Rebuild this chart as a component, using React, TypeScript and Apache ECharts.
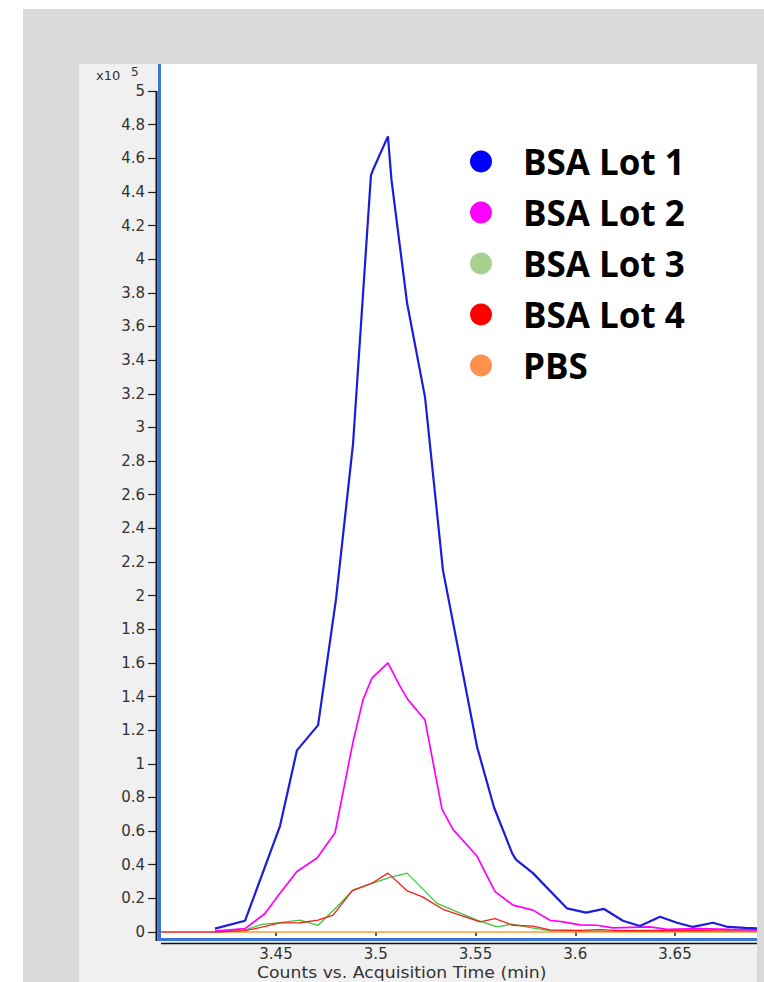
import React, { useEffect, useRef } from "react";
import * as echarts from "echarts";

// Acquisition time (min) and counts (x10^5)
const lot1Time = [3.4194, 3.4345, 3.452, 3.4605, 3.4711, 3.4801, 3.4886, 3.4976, 3.4986, 3.5061, 3.5079, 3.5157, 3.5247, 3.5337, 3.5508, 3.5593, 3.5683, 3.5703, 3.5788, 3.5959, 3.6054, 3.6144, 3.6239, 3.6324, 3.6425, 3.651, 3.659, 3.669, 3.6766, 3.6851, 3.6911];
const lot1Counts = [0.02, 0.067, 0.63, 1.08, 1.23, 1.98, 2.9, 4.5, 4.53, 4.73, 4.47, 3.74, 3.18, 2.15, 1.1, 0.74, 0.47, 0.43, 0.35, 0.14, 0.115, 0.137, 0.067, 0.036, 0.091, 0.055, 0.03, 0.055, 0.03, 0.025, 0.022];

const lot2Time = [3.4194, 3.4345, 3.4445, 3.452, 3.4605, 3.4706, 3.4796, 3.4886, 3.4936, 3.4981, 3.5061, 3.5122, 3.5162, 3.5247, 3.5332, 3.5387, 3.5508, 3.5598, 3.5688, 3.5788, 3.5873, 3.5939, 3.6024, 3.6109, 3.6189, 3.6374, 3.646, 3.6623, 3.6776, 3.6911];
const lot2Counts = [0.005, 0.02, 0.11, 0.23, 0.36, 0.44, 0.59, 1.13, 1.38, 1.51, 1.6, 1.46, 1.38, 1.26, 0.73, 0.61, 0.45, 0.24, 0.16, 0.13, 0.07, 0.06, 0.042, 0.04, 0.024, 0.03, 0.016, 0.02, 0.015, 0.012];

const lot3Time = [3.4194, 3.4335, 3.443, 3.452, 3.462, 3.4711, 3.4806, 3.4886, 3.4986, 3.5071, 3.5157, 3.5307, 3.5387, 3.5508, 3.5608, 3.5683, 3.5783, 3.5873, 3.6024, 3.6224, 3.6425, 3.6623, 3.6911];
const lot3Counts = [0.0, 0.008, 0.045, 0.055, 0.07, 0.04, 0.15, 0.25, 0.29, 0.325, 0.35, 0.17, 0.13, 0.07, 0.03, 0.047, 0.025, 0.008, 0.006, 0.004, 0.004, 0.003, 0.002];

const lot4Time = [3.392, 3.4194, 3.4345, 3.4435, 3.452, 3.462, 3.4711, 3.4786, 3.4881, 3.4981, 3.5061, 3.5157, 3.5232, 3.5337, 3.5523, 3.5598, 3.5688, 3.5788, 3.5873, 3.6024, 3.6124, 3.6224, 3.6374, 3.6525, 3.6726, 3.6911];
const lot4Counts = [0.0, 0.0, 0.008, 0.03, 0.054, 0.055, 0.07, 0.1, 0.245, 0.29, 0.35, 0.245, 0.21, 0.135, 0.06, 0.08, 0.04, 0.035, 0.012, 0.01, 0.014, 0.008, 0.01, 0.008, 0.012, 0.012];

const pbsTime = [3.4194, 3.5, 3.6, 3.6911];
const pbsCounts = [0.0, 0.0, 0.0, 0.0];

const seriesNames = ["BSA Lot 1", "BSA Lot 2", "BSA Lot 3", "BSA Lot 4", "PBS"];
const lineColors = ["#1c1cdc", "#ff00ff", "#3cc83c", "#ff1a1a", "#ffa030"];
const legendColors = ["#0000ff", "#ff00ff", "#a9d18e", "#ff0000", "#ff914d"];

const xTicks = [3.45, 3.5, 3.55, 3.6, 3.65];
const yTicks = [0, 0.2, 0.4, 0.6, 0.8, 1, 1.2, 1.4, 1.6, 1.8, 2, 2.2, 2.4, 2.6, 2.8, 3, 3.2, 3.4, 3.6, 3.8, 4, 4.2, 4.4, 4.6, 4.8, 5];
const xTitle = "Counts vs. Acquisition Time (min)";
const yScaleBase = "x10";
const yScaleExp = "5";

const pairs = (t: number[], v: number[]) => t.map((x, i) => [x, v[i]]);

export default function App() {
  const ref = useRef<HTMLDivElement>(null);

  useEffect(() => {
    if (!ref.current) return;
    const chart = echarts.init(ref.current, undefined, { renderer: "svg" });
    const tickFont = { fontFamily: "DejaVu Sans", fontSize: 15, lineHeight: 15, color: "#333333" };

    const seriesDefs = [
      { name: seriesNames[4], data: pairs(pbsTime, pbsCounts), color: lineColors[4], width: 1.6 },
      { name: seriesNames[2], data: pairs(lot3Time, lot3Counts), color: lineColors[2], width: 1.3 },
      { name: seriesNames[3], data: pairs(lot4Time, lot4Counts), color: lineColors[3], width: 1.3 },
      { name: seriesNames[1], data: pairs(lot2Time, lot2Counts), color: lineColors[1], width: 1.7 },
      { name: seriesNames[0], data: pairs(lot1Time, lot1Counts), color: lineColors[0], width: 2.2 },
    ];

    chart.setOption({
      animation: false,
      backgroundColor: "#ffffff",
      grid: {
        left: 161,
        right: 7,
        top: 64,
        bottom: 44,
        show: true,
        backgroundColor: "#ffffff",
        borderWidth: 0,
        containLabel: false,
        outerBoundsMode: "none",
      },
      xAxis: {
        type: "value",
        min: 3.39236,
        max: 3.6911,
        offset: 5,
        axisLine: { show: false },
        splitLine: { show: false },
        axisTick: {
          show: true,
          customValues: xTicks,
          length: 4,
          lineStyle: { color: "#222222", width: 1.5 },
        },
        axisLabel: {
          customValues: xTicks,
          margin: 3,
          ...tickFont,
          formatter: (v: number) => String(parseFloat(Number(v).toFixed(2))),
        },
      },
      yAxis: {
        type: "value",
        min: -0.0357,
        max: 5.1605,
        offset: 4,
        axisLine: { show: false },
        splitLine: { show: false },
        axisTick: {
          show: true,
          customValues: yTicks,
          length: 9,
          lineStyle: { color: "#222222", width: 1.2 },
        },
        axisLabel: {
          customValues: yTicks,
          margin: 12,
          ...tickFont,
          formatter: (v: number) => String(parseFloat(Number(v).toFixed(1))),
        },
      },
      legend: {
        orient: "vertical",
        left: 470,
        top: 144,
        padding: 0,
        itemGap: 16,
        itemWidth: 22,
        itemHeight: 22,
        icon: "circle",
        selectedMode: false,
        textStyle: {
          fontFamily: "Open Sans",
          fontWeight: "bold",
          fontSize: 35,
          lineHeight: 34,
          color: "#000000",
          padding: [0, 0, 0, 26],
        },
        data: seriesNames.map((n, i) => ({ name: n, itemStyle: { color: legendColors[i] } })),
      },
      graphic: [
        { type: "rect", silent: true, z: -20, shape: { x: 23, y: 9, width: 741, height: 973 }, style: { fill: "#d9d9d9" } },
        { type: "rect", silent: true, z: -19, shape: { x: 79, y: 64, width: 678, height: 918 }, style: { fill: "#f0f0f0" } },
        { type: "line", silent: true, z: 10, shape: { x1: 156.5, y1: 91, x2: 156.5, y2: 941 }, style: { stroke: "#111111", lineWidth: 2 } },
        { type: "line", silent: true, z: 10, shape: { x1: 161, y1: 943.5, x2: 757, y2: 943.5 }, style: { stroke: "#111111", lineWidth: 1.5 } },
        { type: "line", silent: true, z: 11, shape: { x1: 159.5, y1: 64, x2: 159.5, y2: 941 }, style: { stroke: "#3b74d6", lineWidth: 3 } },
        { type: "line", silent: true, z: 11, shape: { x1: 158, y1: 939.5, x2: 757, y2: 939.5 }, style: { stroke: "#3b74d6", lineWidth: 3 } },
        { type: "text", silent: true, z: 12, x: 96, y: 75.5, style: { text: yScaleBase, fontFamily: "DejaVu Sans", fontSize: 13, fill: "#333333", verticalAlign: "middle", align: "left" } },
        { type: "text", silent: true, z: 12, x: 131, y: 71.5, style: { text: yScaleExp, fontFamily: "DejaVu Sans", fontSize: 12, fill: "#333333", verticalAlign: "middle", align: "left" } },
        { type: "text", silent: true, z: 12, x: 257, y: 973, scaleX: 1.15, style: { text: xTitle, fontFamily: "DejaVu Sans", fontSize: 15, lineHeight: 15, fill: "#333333", verticalAlign: "middle", align: "left" } },
      ],
      series: seriesDefs.map((s) => ({
        name: s.name,
        type: "line",
        data: s.data,
        showSymbol: false,
        symbol: "none",
        clip: true,
        color: s.color,
        lineStyle: { color: s.color, width: s.width },
        emphasis: { disabled: true },
      })),
    });

    return () => chart.dispose();
  }, []);

  return (
    <div
      ref={ref}
      style={{ position: "fixed", left: 0, top: 0, width: 764, height: 982 }}
    />
  );
}
